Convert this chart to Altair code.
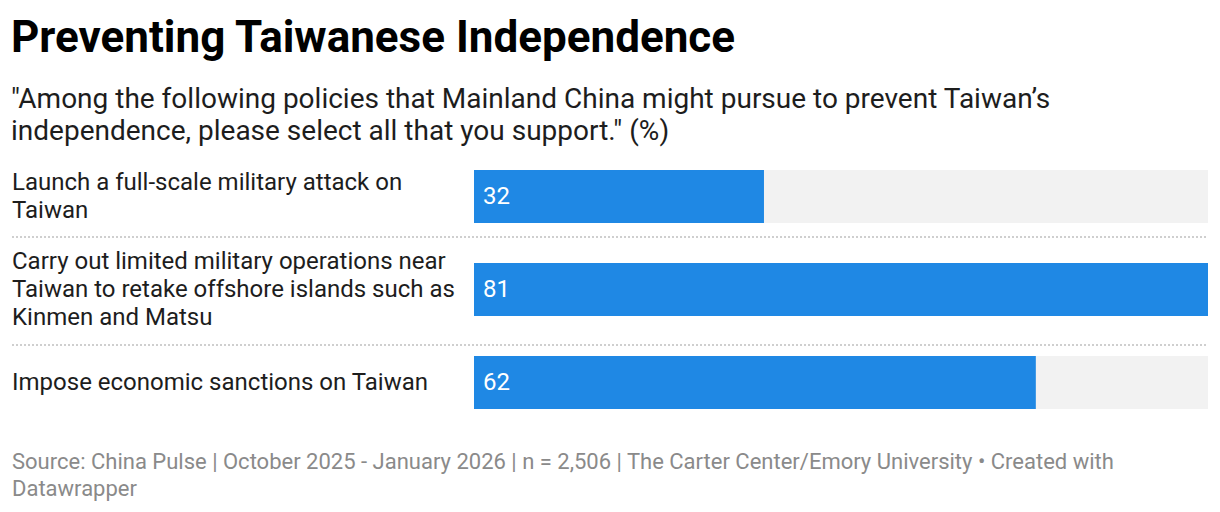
import altair as alt
import pandas as pd

# ---- data ----
categories = [
    "Launch a full-scale military attack on\nTaiwan",
    "Carry out limited military operations near\nTaiwan to retake offshore islands such as\nKinmen and Matsu",
    "Impose economic sanctions on Taiwan",
]
values = [32, 81, 62]

title_text = "Preventing Taiwanese Independence"
subtitle_lines = [
    "\"Among the following policies that Mainland China might pursue to prevent Taiwan\u2019s",
    "independence, please select all that you support.\" (%)",
]
footer_text = ("Source: China Pulse | October 2025 - January 2026 | n = 2,506 | "
               "The Carter Center/Emory University \u2022 Created with\nDatawrapper")

df = pd.DataFrame({"category": categories, "value": values})

W, H = 734, 279
LEFT = 474
FONT = "Roboto"
BLUE = "#1f88e4"
LH = 28

yscale = alt.Scale(domain=categories, paddingInner=0.43, paddingOuter=0.215)
base = alt.Chart(df)
Y = alt.Y("category:N", scale=yscale, axis=None, sort=categories)

bg = base.transform_joinaggregate(maxv="max(value)").mark_bar(color="#f2f2f2").encode(
    y=Y,
    x=alt.X("maxv:Q", scale=alt.Scale(nice=False, zero=True), axis=None),
)

bars = base.mark_bar(color=BLUE).encode(y=Y, x=alt.X("value:Q", axis=None))

vals = base.mark_text(align="left", baseline="middle", dx=9, font=FONT, fontSize=24,
                      color="white").encode(y=Y, x=alt.datum(0), text=alt.Text("value:Q"))

def label_layer(n):
    return base.transform_calculate(
        nlines="length(split(datum.category, '\\n'))"
    ).transform_filter(alt.datum.nlines == n).mark_text(
        align="left", baseline="middle", lineBreak="\n", lineHeight=LH,
        font=FONT, fontSize=24, color="#1d1d1d", dy=-(n - 1) * LH / 2,
    ).encode(y=Y, x=alt.value(12 - LEFT), text="category:N")

labels = [label_layer(n) for n in (1, 2, 3)]

def sep(cat, off):
    return base.transform_filter(alt.datum.category == cat).mark_rule(
        color="#cfcfcf", strokeWidth=2, strokeDash=[2, 2], yOffset=off
    ).encode(y=Y, x=alt.value(12 - LEFT), x2=alt.value(W))

sep1 = sep(categories[0], 40.5)
sep2 = sep(categories[1], 55.5)

footer = alt.Chart(pd.DataFrame({"t": [footer_text]})).mark_text(
    align="left", baseline="alphabetic", lineBreak="\n", lineHeight=27,
    font=FONT, fontSize=22, color="#8a8a8a"
).encode(x=alt.value(12 - LEFT), y=alt.value(319), text="t:N")

chart = alt.layer(bg, bars, vals, *labels, sep1, sep2, footer).properties(
    width=W, height=H,
    title=alt.TitleParams(
        text=title_text, subtitle=subtitle_lines, anchor="start",
        font=FONT, fontSize=44, fontWeight="bold", color="#000000",
        subtitleFont=FONT, subtitleFontSize=28, subtitleColor="#1d1d1d",
        subtitleLineHeight=32, subtitlePadding=25, offset=4,
    ),
    autosize=alt.AutoSizeParams(type="none"),
    padding={"left": LEFT, "top": 150, "right": 12, "bottom": 83},
).configure(background="white").configure_view(stroke="transparent", strokeWidth=0)

chart.save("out.html", embed_options={"renderer": "svg", "actions": False})
